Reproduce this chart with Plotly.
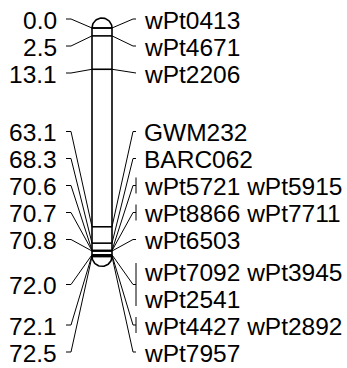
import numpy as np
import plotly.graph_objects as go

# ---- data ----
positions = [0.0, 2.5, 13.1, 63.1, 68.3, 70.6, 70.7, 70.8, 72.0, 72.1, 72.5]
markers = [
    ["wPt0413"], ["wPt4671"], ["wPt2206"], ["GWM232"], ["BARC062"],
    ["wPt5721", "wPt5915"], ["wPt8866", "wPt7711"], ["wPt6503"],
    ["wPt7092", "wPt3945", "wPt2541"], ["wPt4427", "wPt2892"], ["wPt7957"],
]
pos_labels = [f"{p:.1f}" for p in positions]

# ---- layout constants (pixel-ish x units, cM on y) ----
W, H = 347, 368
PX = 3.15            # pixels per cM
TOP_PX = 28          # pixel row of position 0
CHR_L, CHR_R = 92, 112
CAP_R = 10
GAP = 27 / PX        # label row spacing, cM
GROUP_PAD = 4.5 / PX  # extra space above a multi-row group
Y_MIN = (19 - TOP_PX) / PX
Y_MAX = (352 - TOP_PX) / PX
FONT = dict(family="Liberation Sans, Arial, sans-serif", size=24.5, color="black")

# rows of right labels (max two names per row)
rows = []  # (pos index, text, first row of multi-row group)
for i, names in enumerate(markers):
    chunks = [" ".join(names[k:k + 2]) for k in range(0, len(names), 2)]
    for j, t in enumerate(chunks):
        rows.append((i, t, j == 0 and len(chunks) > 1))
ideal = np.array([positions[i] for i, _, _ in rows])
gaps = [0.0] + [GAP + (GROUP_PAD if rows[k][2] else 0.0) for k in range(1, len(rows))]
off = np.cumsum(gaps)

# label spreading: isotonic (pool-adjacent-violators) on ideal - offset
u = ideal - off
blocks = []  # [sum, count]
for v in u:
    blocks.append([v, 1])
    while len(blocks) > 1 and blocks[-2][0] / blocks[-2][1] > blocks[-1][0] / blocks[-1][1]:
        s, n = blocks.pop()
        blocks[-1][0] += s
        blocks[-1][1] += n
uf = []
for s, n in blocks:
    uf += [s / n] * n
uf = np.array(uf)
uf = np.minimum(uf, Y_MAX - off[-1])
uf = np.maximum(uf, Y_MIN - off[0])
ry = list(uf + off)

fig = go.Figure()

# chromosome outline
top, bot = positions[0], positions[-1]
cx = (CHR_L + CHR_R) / 2
th = np.linspace(np.pi, 0, 40)
ox = [CHR_L, CHR_L]
oy = [top, bot]
ox += list(cx - CAP_R * np.cos(th))
oy += list(bot + CAP_R / PX * np.sin(th))
ox += [CHR_R, CHR_R]
oy += [bot, top]
ox += list(cx + CAP_R * np.cos(th))
oy += list(top - CAP_R / PX * np.sin(th))
fig.add_trace(go.Scatter(x=ox, y=oy, mode="lines", line=dict(color="black", width=1.6),
                         hoverinfo="skip", showlegend=False))

# bands
bx, by = [], []
for p in positions:
    bx += [CHR_L, CHR_R, None]
    by += [p, p, None]
fig.add_trace(go.Scatter(x=bx, y=by, mode="lines", line=dict(color="black", width=1.6),
                         hoverinfo="skip", showlegend=False))

# connectors
cxs, cys = [], []
for i, p in enumerate(positions):
    ys = [ry[k] for k, r in enumerate(rows) if r[0] == i]
    mid = float(np.mean(ys))
    # right
    cxs += [CHR_R, 133, 136, None]
    cys += [p, mid, mid, None]
    if len(markers[i]) > 1:
        h = 8 / PX
        cxs += [136, 136, None]
        cys += [min(ys) - h, max(ys) + h, None]
    # left
    cxs += [CHR_L, 71, 66, None]
    cys += [p, mid, mid, None]
    fig.add_annotation(x=59, y=mid, text=pos_labels[i], showarrow=False,
                       xanchor="right", yanchor="middle", yshift=-1, font=FONT)
fig.add_trace(go.Scatter(x=cxs, y=cys, mode="lines", line=dict(color="black", width=1),
                         hoverinfo="skip", showlegend=False))

for k, (i, txt, _) in enumerate(rows):
    fig.add_annotation(x=142, y=ry[k], text=txt, showarrow=False,
                       xanchor="left", yanchor="middle", yshift=-1, font=FONT)

fig.update_layout(
    width=W, height=H, margin=dict(l=0, r=0, t=0, b=0),
    paper_bgcolor="white", plot_bgcolor="white",
    xaxis=dict(range=[0, W], visible=False, fixedrange=True),
    yaxis=dict(range=[(H - TOP_PX) / PX, -TOP_PX / PX], visible=False, fixedrange=True),
)
fig.write_html("out.html")
